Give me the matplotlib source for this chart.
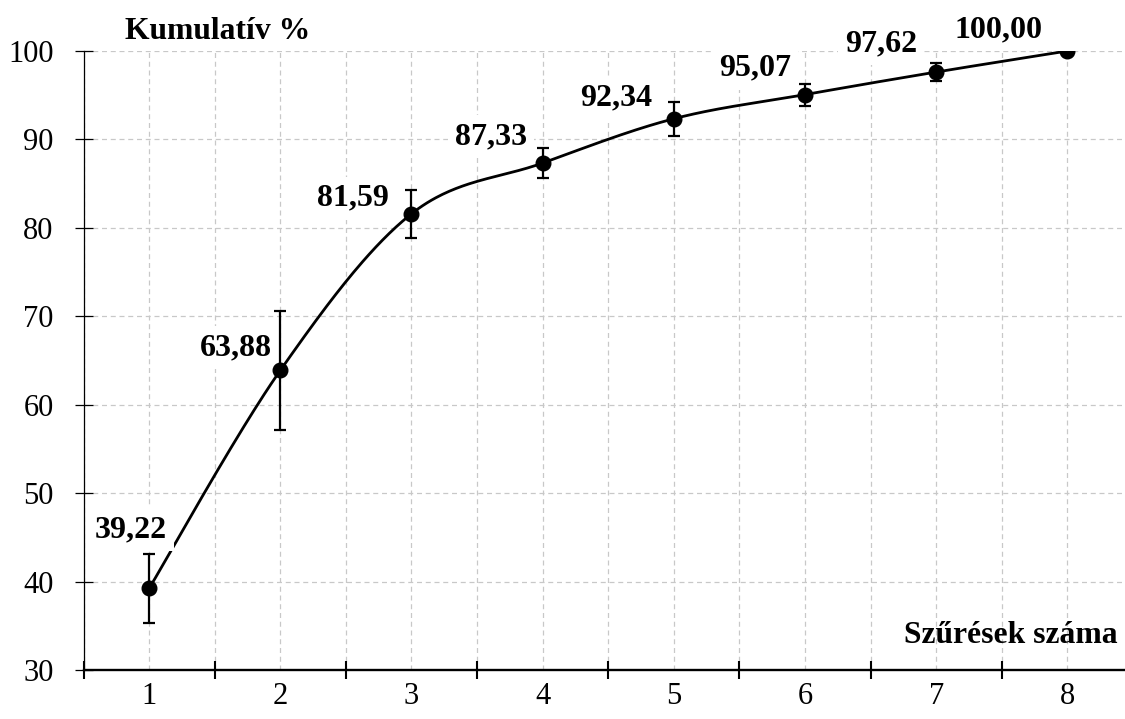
import numpy as np
import matplotlib
matplotlib.use("Agg")
import matplotlib.pyplot as plt
from matplotlib.ticker import FixedLocator, NullFormatter

# ---- data ----
filtrations = [1, 2, 3, 4, 5, 6, 7, 8]
cumulative = [39.22, 63.88, 81.59, 87.33, 92.34, 95.07, 97.62, 100.00]
errors = [3.85, 6.7, 2.7, 1.7, 1.9, 1.25, 1.0, 0.0]
labels = ["39,22", "63,88", "81,59", "87,33", "92,34", "95,07", "97,62", "100,00"]
y_title = "Kumulatív %"
x_title = "Szűrések száma"

# label offsets (pixels: right edge / baseline relative to point)
label_offsets_px = [(18, 51), (-8, 15), (-23, 8), (-16, 19), (-22, 13), (-14, 19), (-19, 21), (-25, 14)]

plt.rcParams['font.family'] = ['Liberation Serif', 'DejaVu Serif']

W, H, DPI = 1125, 719, 100
fig = plt.figure(figsize=(W / DPI, H / DPI), dpi=DPI)
ax_left_px, ax_right_px = 83.5, 1133
ax_top_px, ax_bot_px = 51, 670
ax = fig.add_axes([ax_left_px / W, 1 - ax_bot_px / H,
                   (ax_right_px - ax_left_px) / W, (ax_bot_px - ax_top_px) / H])
ax.set_xlim(0.5, 8.5)
ax.set_ylim(30, 100)

# Excel-like smoothed line (Bezier with tangent (P[i+1]-P[i-1])/6)
x = np.array(filtrations, dtype=float)
y = np.array(cumulative, dtype=float)
sx, sy = [], []
n = len(x)
for i in range(n - 1):
    p0 = np.array([x[max(i - 1, 0)], y[max(i - 1, 0)]])
    p1 = np.array([x[i], y[i]])
    p2 = np.array([x[i + 1], y[i + 1]])
    p3 = np.array([x[min(i + 2, n - 1)], y[min(i + 2, n - 1)]])
    c1 = p1 + (p2 - p0) / 6.0
    c2 = p2 - (p3 - p1) / 6.0
    t = np.linspace(0, 1, 60)[:, None]
    pts = (1 - t) ** 3 * p1 + 3 * (1 - t) ** 2 * t * c1 + 3 * (1 - t) * t ** 2 * c2 + t ** 3 * p2
    sx.extend(pts[:, 0]); sy.extend(pts[:, 1])
ax.plot(sx, sy, color='black', lw=2.0, zorder=2, solid_capstyle='round')

# error bars + markers
ax.errorbar(x[:-1], y[:-1], yerr=errors[:-1], fmt='none', ecolor='black',
            elinewidth=1.6, capsize=4, capthick=1.6, zorder=4)
ax.plot(x, y, 'o', color='black', markersize=10.5, zorder=5)

# data labels
for xi, yi, lab, (dx, dy) in zip(x, y, labels, label_offsets_px):
    ax.annotate(lab, (xi, yi), xytext=(dx * 72 / DPI, dy * 72 / DPI),
                textcoords='offset points', ha='right', va='baseline',
                fontsize=23, fontweight='bold', zorder=3,
                bbox=dict(boxstyle='square,pad=0.22', fc='white', ec='none'))

# grid / ticks
ax.xaxis.set_major_locator(FixedLocator(np.arange(0.5, 8.6, 1.0)))
ax.xaxis.set_major_formatter(NullFormatter())
ax.set_xticks(filtrations, minor=True)
ax.set_xticklabels([str(v) for v in filtrations], minor=True)
ax.set_yticks(np.arange(30, 101, 10))
ax.set_yticklabels([str(v) for v in range(30, 101, 10)])

grid_kw = dict(color='#c8c8c8', linestyle=(0, (4, 3)), linewidth=0.9)
ax.grid(True, which='both', axis='x', **grid_kw)
ax.grid(True, which='major', axis='y', **grid_kw)
ax.set_axisbelow(True)

for s in ['top', 'right']:
    ax.spines[s].set_visible(False)
ax.spines['left'].set_linewidth(0.9)
ax.spines['bottom'].set_linewidth(1.7)

ax.tick_params(axis='x', which='major', direction='inout', length=13, width=1.5, color='black')
ax.tick_params(axis='x', which='minor', length=0, pad=9, labelsize=22)
ax.tick_params(axis='y', which='major', direction='inout', length=13, width=0.9,
               pad=15, labelsize=22)

# axis titles
fig.text(125 / W, 1 - 39 / H, y_title, ha='left', va='baseline', fontsize=22.8, fontweight='bold')
fig.text(1118 / W, 1 - 643 / H, x_title, ha='right', va='baseline', fontsize=22.8, fontweight='bold')

fig.savefig('out.png', dpi=DPI)
